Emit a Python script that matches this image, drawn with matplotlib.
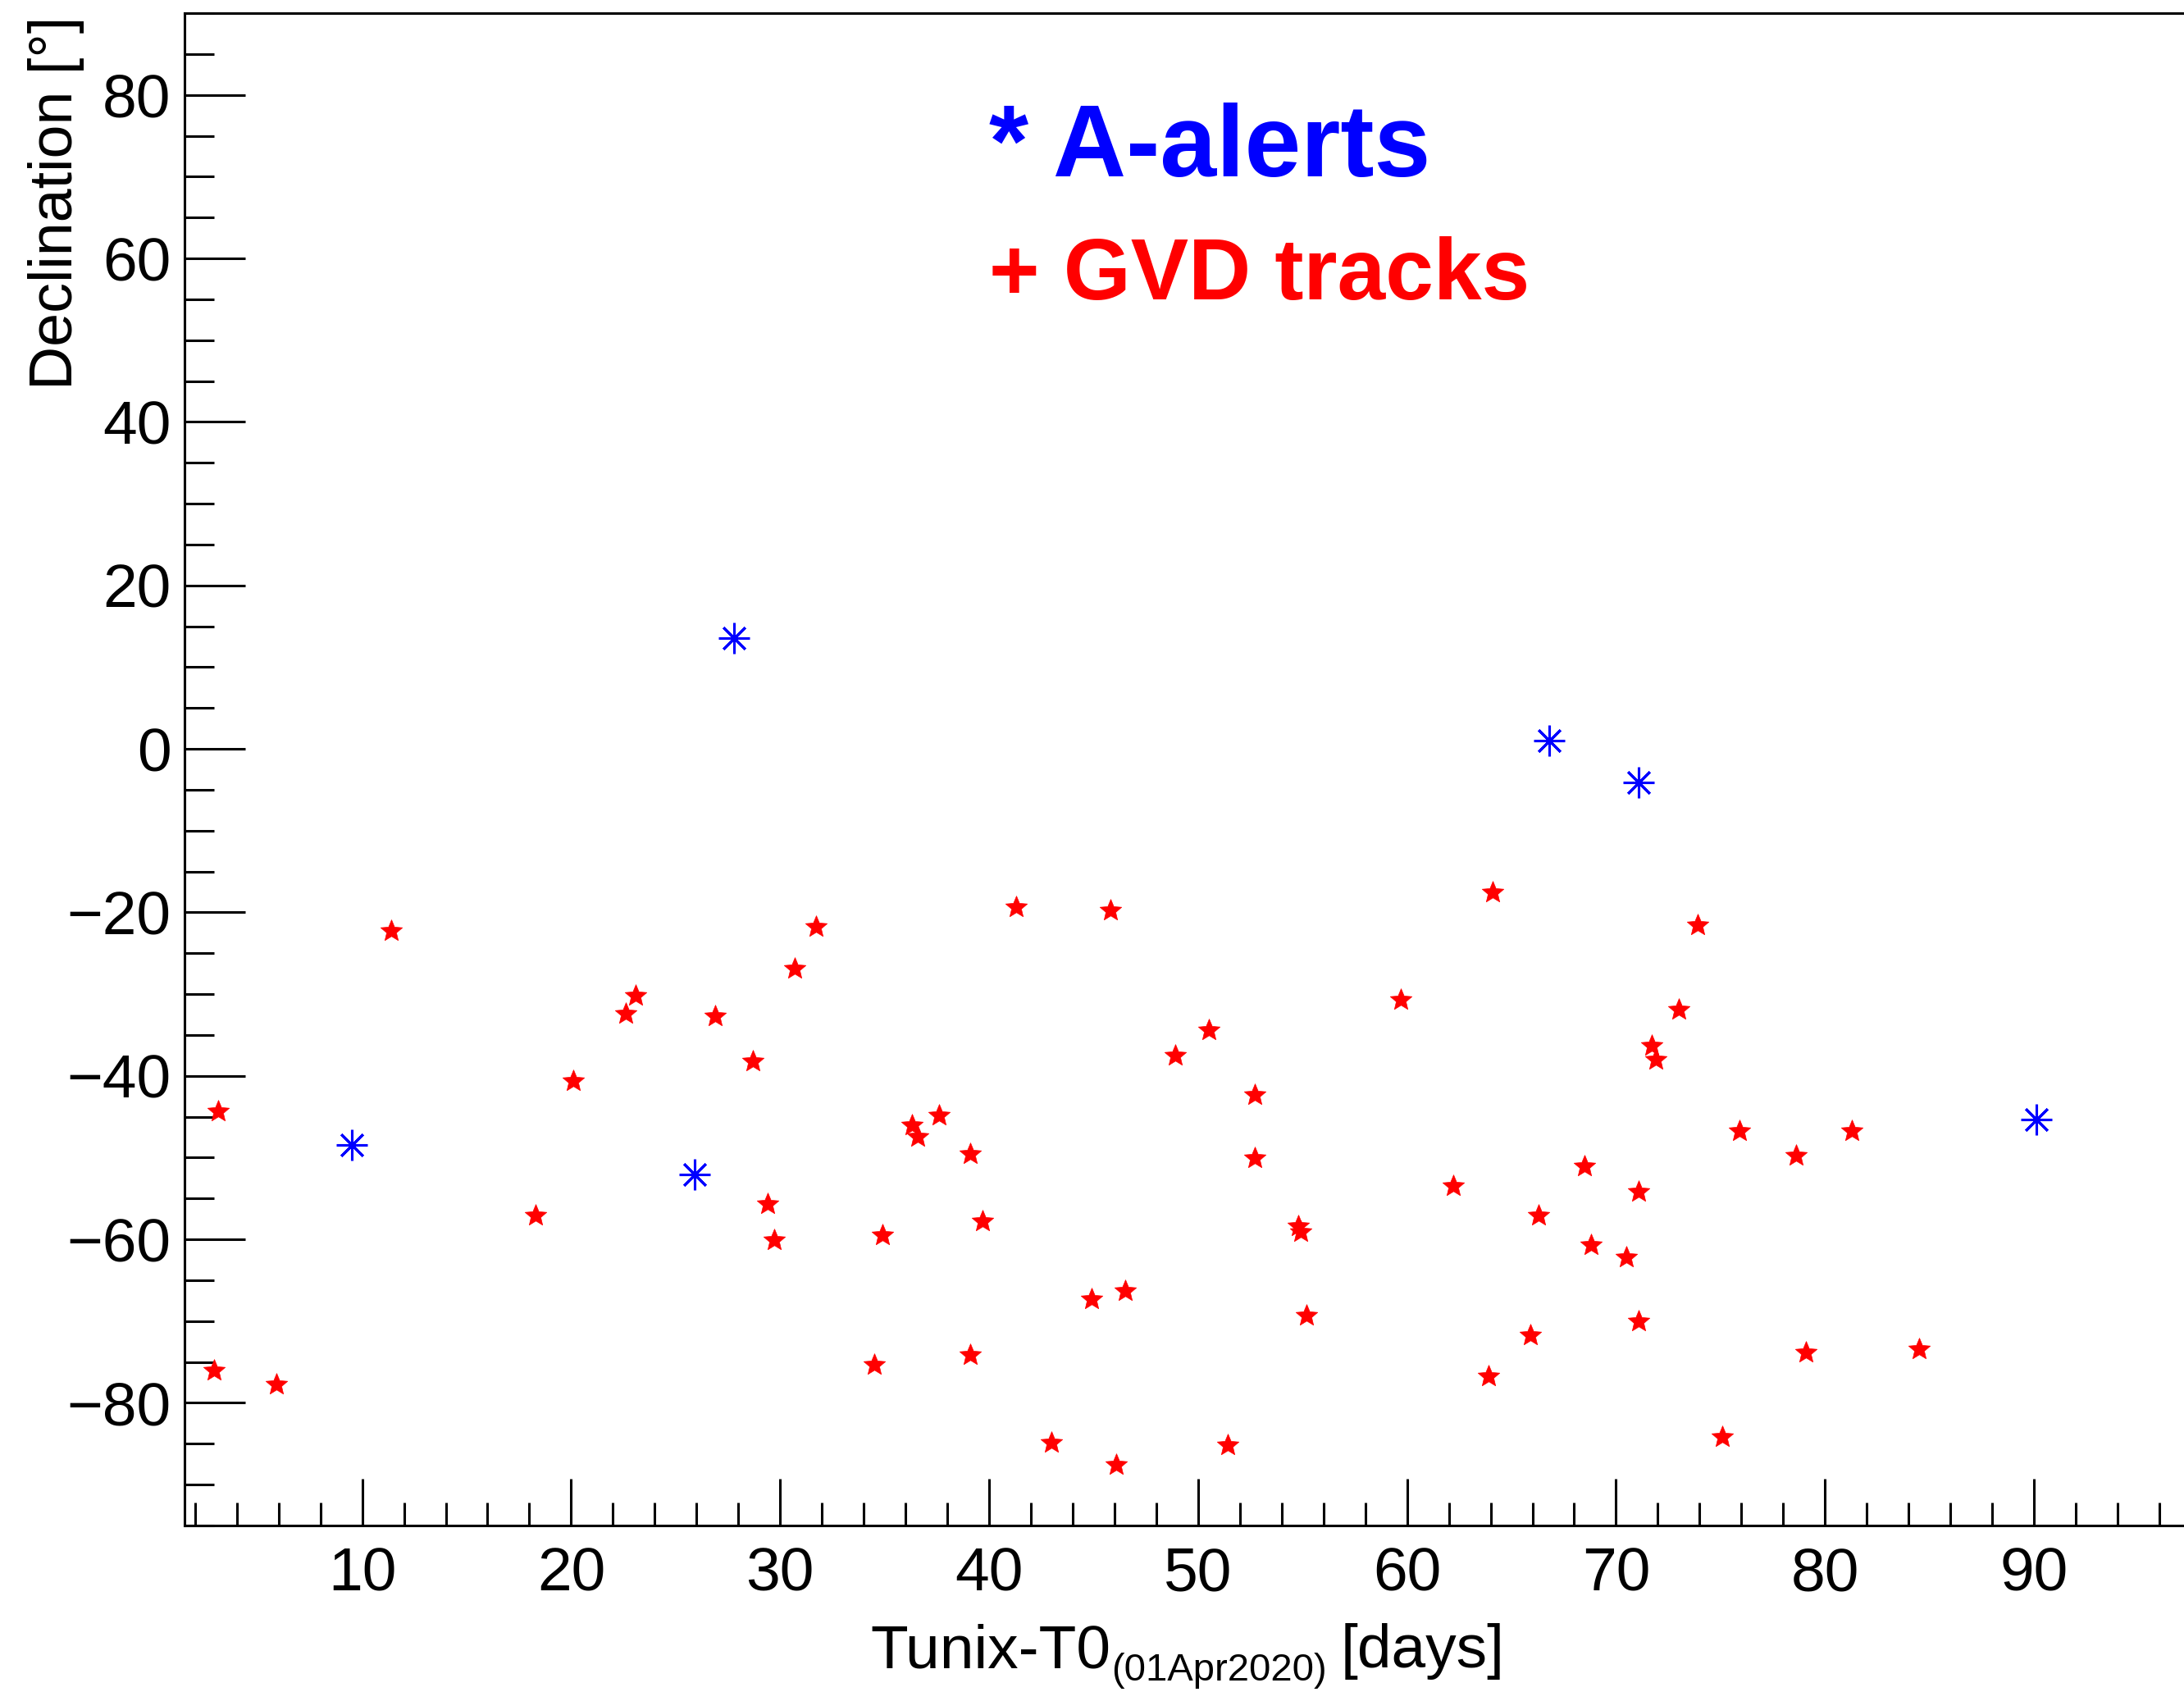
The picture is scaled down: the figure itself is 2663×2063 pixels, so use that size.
import matplotlib
matplotlib.use("Agg")
import matplotlib.pyplot as plt
from matplotlib.path import Path
from matplotlib.ticker import MultipleLocator

plt.rcParams["font.family"] = ["Liberation Sans", "DejaVu Sans"]

# A-alerts (days since 01 Apr 2020, declination in degrees)
alert_days = [9.5, 27.8, 25.9, 66.8, 71.1, 90.1]
alert_dec = [-48.4, 13.6, -52.1, 1.0, -4.1, -45.3]

# GVD track events
gvd_days = [3.1, 2.9, 5.9, 11.4, 18.3, 20.1, 22.6, 23.1, 26.9, 28.7,
            29.4, 29.7, 30.7, 31.7, 34.5, 34.9, 36.3, 36.6, 37.6, 39.1,
            39.1, 39.7, 41.3, 43.0, 44.9, 45.8, 46.1, 46.5, 48.9, 50.5,
            51.4, 52.7, 52.7, 54.8, 54.9, 55.2, 59.7, 62.2, 64.1, 63.9,
            65.9, 66.3, 68.5, 68.8, 70.5, 71.1, 71.1, 71.7, 71.9, 73.0,
            73.9, 75.1, 75.9, 78.6, 79.1, 81.3, 84.5]
gvd_dec = [-44.3, -76.0, -77.7, -22.3, -57.1, -40.6, -32.4, -30.2, -32.7, -38.2,
           -55.7, -60.1, -26.9, -21.8, -75.3, -59.5, -46.0, -47.4, -44.8, -49.6,
           -74.1, -57.8, -19.4, -84.9, -67.3, -19.8, -87.6, -66.3, -37.5, -34.4,
           -85.2, -42.3, -50.1, -58.4, -59.1, -69.3, -30.7, -53.5, -17.5, -76.7,
           -71.7, -57.1, -51.1, -60.7, -62.2, -54.2, -70.0, -36.3, -38.0, -31.9,
           -21.6, -84.2, -46.7, -49.8, -73.8, -46.7, -73.4]

# slightly fatter star, like ROOT's filled star marker
fat_star = Path.unit_regular_star(5, innerCircle=0.45)

fig = plt.figure(figsize=(26.63, 20.63), dpi=100)
ax = fig.add_axes([0.0845, 0.0984, 0.9377, 0.8938])

ax.plot(gvd_days, gvd_dec, linestyle="none", marker=fat_star, ms=20,
        color="red", mec="red", mew=0.5)
ax.plot(alert_days, alert_dec, linestyle="none", marker=(8, 2, 0), ms=27,
        mew=2.2, color="blue")

ax.set_xlim(1.5, 99.5)
ax.set_ylim(-95, 90)

ax.xaxis.set_major_locator(MultipleLocator(10))
ax.xaxis.set_minor_locator(MultipleLocator(2))
ax.yaxis.set_major_locator(MultipleLocator(20))
ax.yaxis.set_minor_locator(MultipleLocator(5))

ax.tick_params(axis="x", which="major", direction="in", length=41, width=2.2,
               labelsize=54, pad=18)
ax.tick_params(axis="x", which="minor", direction="in", length=20, width=2.2)
ax.tick_params(axis="y", which="major", direction="in", length=53, width=2.2,
               labelsize=54, pad=12)
ax.tick_params(axis="y", which="minor", direction="in", length=26, width=2.2)
ax.tick_params(which="both", top=False, right=False)
for s in ax.spines.values():
    s.set_linewidth(2.2)

ax.text(40, 70, "* A-alerts", color="blue", fontsize=89, fontweight="bold")
ax.text(40, 55, "+ GVD tracks", color="red", fontsize=76, fontweight="bold")

# x title with a ROOT-like subscript, built from three pieces
t1 = fig.text(1061 / 2663, 1 - 2033 / 2063, "Tunix-T0", fontsize=54,
              ha="left", va="baseline")
t2 = ax.annotate("(01Apr2020)", xy=(1, 0), xycoords=t1, xytext=(1, -8),
                 textcoords="offset points", fontsize=34, ha="left", va="bottom",
                 annotation_clip=False)
ax.annotate("[days]", xy=(1, 0), xycoords=t2, xytext=(12, 8),
            textcoords="offset points", fontsize=54, ha="left", va="bottom",
            annotation_clip=False)

ax.set_ylabel("Declination [°]", fontsize=53, ha="right", va="baseline")
ax.yaxis.set_label_coords(88 / 2663, 1 - 20 / 2063, transform=fig.transFigure)

fig.savefig("out.png", dpi=100)
